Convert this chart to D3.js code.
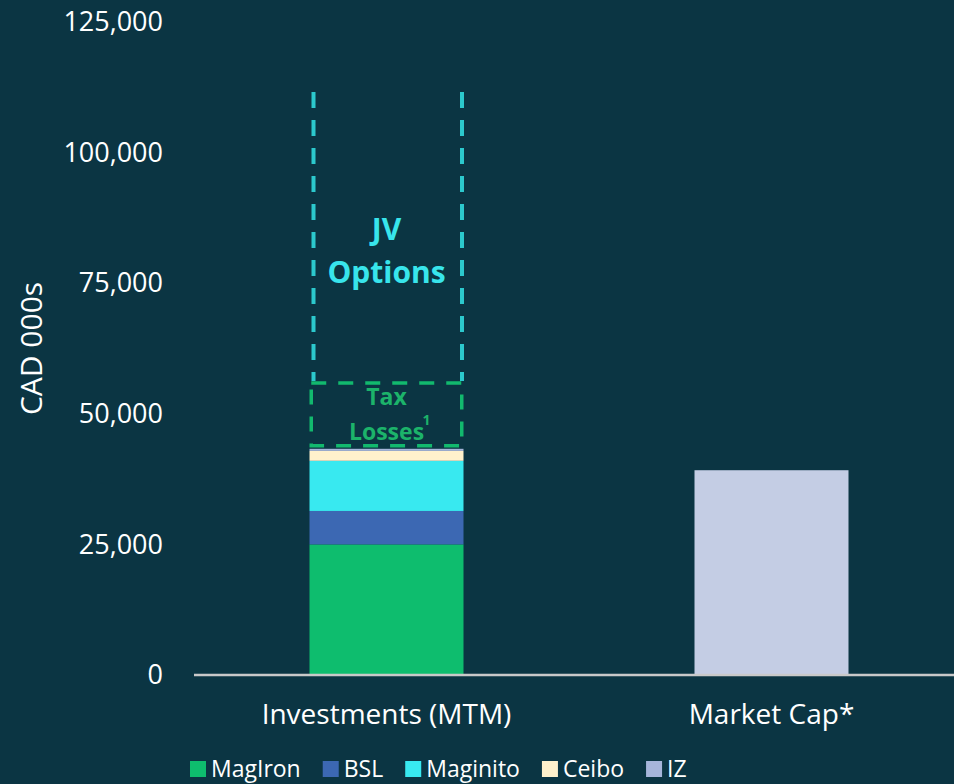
<!DOCTYPE html>
<html>
  <head>
    <meta charset="utf-8">
    <title>Investments vs Market Cap</title>
    <script src="https://d3js.org/d3.v7.min.js"></script>
    <style>
      html, body { margin: 0; padding: 0; background: #0b3543; }
      svg { display: block; font-family: "Open Sans", sans-serif; }
      .tick text { fill: #ffffff; font-size: 27px; }
      .cat { fill: #ffffff; font-size: 28px; }
      .legend text { fill: #ffffff; font-size: 23px; }
    </style>
  </head>
  <body>
    <svg id="chart" width="954" height="784"></svg>
    <script>
      // chart data (CAD 000s)
      const categories = ["Investments (MTM)", "Market Cap*"];
      const seriesNames = ["MagIron", "BSL", "Maginito", "Ceibo", "IZ"];
      const seriesColors = ["#0ebd6e", "#3c68b3", "#38e9f0", "#fff1cc", "#a6b5da"];
      const investments = [25000, 6400, 9600, 1900, 400];
      const marketCap = [39200];
      const taxLosses = [12600];
      const jvOptions = [55700];
      const yTicks = [0, 25000, 50000, 75000, 100000, 125000];

      const svg = d3.select("#chart");
      const width = 954, height = 784;
      const margin = { top: 22, bottom: 109, left: 194 };

      const x = d3.scaleBand()
        .domain(categories)
        .range([margin.left, 964])
        .paddingInner(0.6)
        .paddingOuter(0.3);
      const y = d3.scaleLinear()
        .domain([0, 125000])
        .range([height - margin.bottom, margin.top]);

      // y axis labels only
      const axis = d3.axisLeft(y)
        .tickValues(yTicks)
        .tickSize(0)
        .tickPadding(31)
        .tickFormat(d3.format(","));
      svg.append("g")
        .attr("transform", "translate(" + margin.left + ",0)")
        .call(axis)
        .attr("font-family", null)
        .attr("font-size", null)
        .call(g => g.select(".domain").remove());

      svg.append("text")
        .attr("transform", "translate(31," + y(62500) + ") rotate(-90)")
        .attr("text-anchor", "middle")
        .attr("dy", "0.35em")
        .attr("fill", "#ffffff")
        .style("font-size", "30px")
        .text("CAD 000s");

      // stacked investments bar
      let acc = 0;
      const stack = investments.map(function(v, i) {
        const d = { name: seriesNames[i], color: seriesColors[i], y0: acc, y1: acc + v };
        acc += v;
        return d;
      });
      const total = acc;
      const bw = x.bandwidth();

      svg.selectAll(".seg")
        .data(stack)
        .enter().append("rect")
          .attr("class", "seg")
          .attr("x", x(categories[0]))
          .attr("width", bw)
          .attr("y", d => y(d.y1))
          .attr("height", d => y(d.y0) - y(d.y1))
          .attr("fill", d => d.color);

      svg.append("rect")
        .attr("x", x(categories[1]))
        .attr("width", bw)
        .attr("y", y(marketCap[0]))
        .attr("height", y(0) - y(marketCap[0]))
        .attr("fill", "#c4cde4");

      // tax losses dashed box
      const taxTop = total + taxLosses[0];
      const sw = 3.5;
      svg.append("rect")
        .attr("x", x(categories[0]) + sw / 2)
        .attr("width", bw - sw)
        .attr("y", y(taxTop))
        .attr("height", y(total) - y(taxTop) - 3)
        .attr("fill", "none")
        .attr("stroke", "#12b96e")
        .attr("stroke-width", sw)
        .attr("stroke-dasharray", "15,12");

      // JV options dashed sides
      const jvTop = taxTop + jvOptions[0];
      [x(categories[0]) + 4, x(categories[0]) + bw - 1.5].forEach(function(px) {
        svg.append("line")
          .attr("x1", px).attr("x2", px)
          .attr("y1", y(jvTop)).attr("y2", y(taxTop) - 2)
          .attr("stroke", "#2cc9cd")
          .attr("stroke-width", 4)
          .attr("stroke-dasharray", "16,12");
      });

      const cx = x(categories[0]) + bw / 2;
      const jvText = svg.append("text")
        .attr("text-anchor", "middle")
        .attr("fill", "#38e5ec")
        .attr("font-weight", "bold")
        .style("font-size", "30px");
      jvText.append("tspan").attr("x", cx).attr("y", 240).text("JV");
      jvText.append("tspan").attr("x", cx).attr("y", 283).text("Options");

      const taxText = svg.append("text")
        .attr("text-anchor", "middle")
        .attr("fill", "#1cb36a")
        .attr("font-weight", "bold")
        .style("font-size", "23px");
      taxText.append("tspan").attr("x", cx).attr("y", 405).text("Tax");
      taxText.append("tspan").attr("x", cx).attr("y", 440).text("Losses");
      svg.append("text")
        .attr("x", cx + 36).attr("y", 425)
        .attr("fill", "#1cb36a")
        .attr("font-weight", "bold")
        .style("font-size", "14px")
        .text("1");

      // baseline
      svg.append("line")
        .attr("x1", margin.left).attr("x2", width)
        .attr("y1", y(0)).attr("y2", y(0))
        .attr("stroke", "#c9c9c9")
        .attr("stroke-width", 2.5);

      // category labels
      svg.selectAll(".cat")
        .data(categories)
        .enter().append("text")
          .attr("class", "cat")
          .attr("x", d => x(d) + bw / 2)
          .attr("y", 724)
          .attr("text-anchor", "middle")
          .text(d => d);

      // legend
      const legend = svg.append("g").attr("class", "legend");
      let lx = 190;
      seriesNames.forEach(function(name, i) {
        legend.append("rect")
          .attr("x", lx).attr("y", 761)
          .attr("width", 16).attr("height", 16)
          .attr("fill", seriesColors[i]);
        const t = legend.append("text")
          .attr("x", lx + 21).attr("y", 777)
          .text(name);
        lx += 21 + t.node().getComputedTextLength() + 22;
      });
    </script>
  </body>
</html>
